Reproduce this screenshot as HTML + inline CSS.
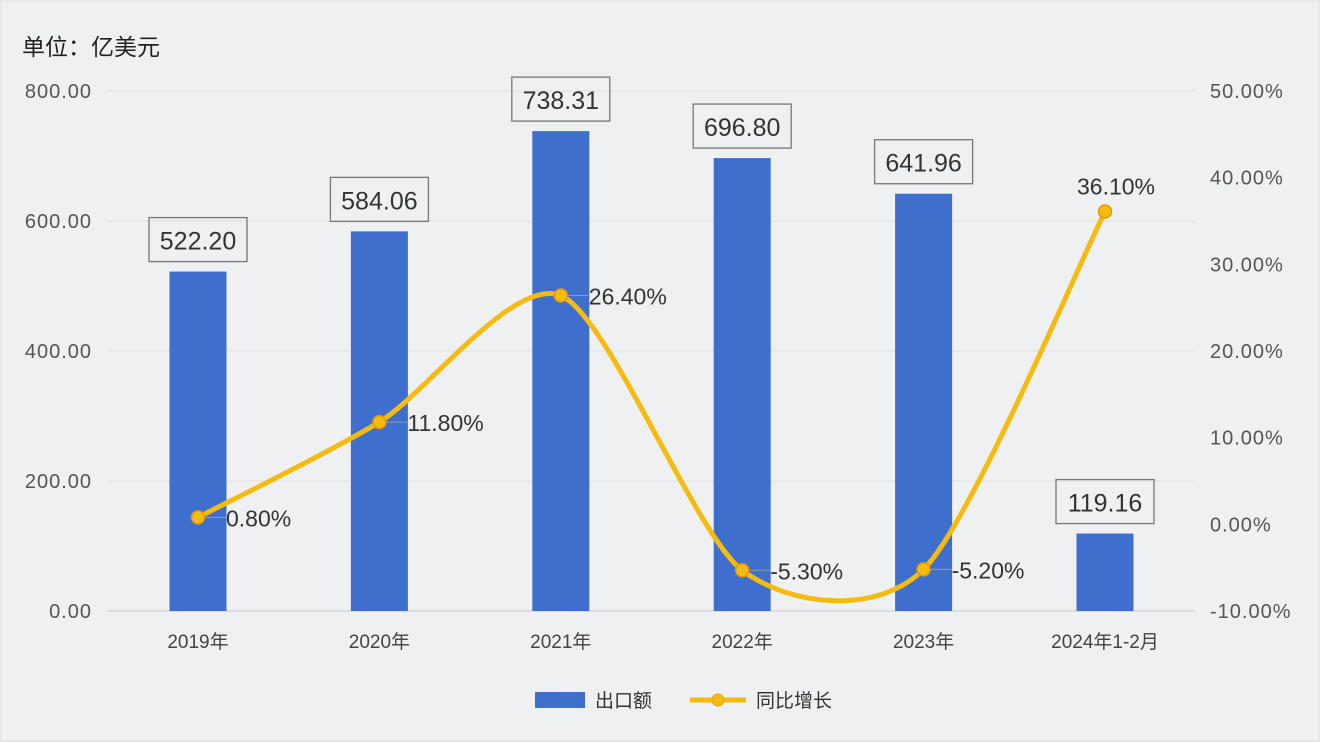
<!DOCTYPE html>
<html><head><meta charset="utf-8"><style>
body{margin:0;background:#eff0f2;}
svg{display:block;font-family:"Liberation Sans","Noto Sans CJK SC",sans-serif;}
</style></head><body>
<svg id="c" width="1320" height="742">
<rect x="1" y="1" width="1318" height="740" fill="#eff0f2" stroke="#dcdde0"/>
<text x="22" y="55" font-size="23" fill="#222">单位：亿美元</text>
<g id="grid"></g><g id="bars"></g><g id="line"></g><g id="labels"></g>
<g>
<rect x="535" y="692" width="50" height="16" fill="#3f6fcc"/>
<text x="595" y="707" font-size="19" fill="#333">出口额</text>
<line x1="690" y1="700" x2="746" y2="700" stroke="#f5bb10" stroke-width="5"/>
<circle cx="718" cy="700" r="6" fill="#f5bb10" stroke="#e8a000"/>
<text x="756" y="707" font-size="19" fill="#333">同比增长</text>
</g>
</svg>
<script>
const categories=["2019年","2020年","2021年","2022年","2023年","2024年1-2月"];
const exportValues=[522.20,584.06,738.31,696.80,641.96,119.16];
const growth=[0.80,11.80,26.40,-5.30,-5.20,36.10];
const leftTicks=[0,200,400,600,800];
const rightTicks=[-10,0,10,20,30,40,50];
const NS="http://www.w3.org/2000/svg";
const plotTop=91,plotBot=611,x0=107,x1=1195;
const yL=v=>plotBot-(v/800)*(plotBot-plotTop);
const yR=v=>plotBot-((v+10)/60)*(plotBot-plotTop);
const xC=i=>198+i*181.4;
function mk(tag,attrs,parent,txt){const e=document.createElementNS(NS,tag);for(const k in attrs)e.setAttribute(k,attrs[k]);if(txt!=null)e.textContent=txt;document.getElementById(parent).appendChild(e);return e;}
leftTicks.forEach(t=>{
 const l=mk('line',{x1:x0,x2:x1,y1:yL(t),y2:yL(t),stroke:t===0?'#c8c9cc':'#dfe0e3','stroke-width':1},'grid');
 
 
 const tx=mk('text',{x:92,y:yL(t)+7,'text-anchor':'end','font-size':20,fill:'#555','letter-spacing':1},'grid',t.toFixed(2));
 
 
});
rightTicks.forEach(t=>{
 const tx=mk('text',{x:1210,y:yR(t)+7,'font-size':20,fill:'#555','letter-spacing':1},'grid',t.toFixed(2)+'%');
 
 
});
categories.forEach((c,i)=>{
 const tx=mk('text',{x:xC(i),y:648,'text-anchor':'middle','font-size':19,fill:'#444'},'grid',c);
 
 
});
exportValues.forEach((v,i)=>{
 const b=mk('rect',{x:xC(i)-28.5,y:yL(v),width:57,height:plotBot-yL(v),fill:'#3f6fcc'},'bars');
 
 
 const s=v.toFixed(2),w=s.length*13+20;
 const r=mk('rect',{x:xC(i)-w/2,y:yL(v)-54,width:w,height:44,fill:'none',stroke:'#777','stroke-width':1.3},'labels');
 
 
 const t=mk('text',{x:xC(i),y:yL(v)-22,'text-anchor':'middle','font-size':25,fill:'#333'},'labels',s);
 
 
});
const pts=growth.map((g,i)=>[xC(i),yR(g)]);
let d='M'+pts[0][0]+','+pts[0][1];
for(let i=0;i<pts.length-1;i++){
 const p0=pts[Math.max(0,i-1)],p1=pts[i],p2=pts[i+1],p3=pts[Math.min(pts.length-1,i+2)];
 const k=0.13;
 d+=' C'+(p1[0]+(p2[0]-p0[0])*k)+','+(p1[1]+(p2[1]-p0[1])*k)+' '+(p2[0]-(p3[0]-p1[0])*k)+','+(p2[1]-(p3[1]-p1[1])*k)+' '+p2[0]+','+p2[1];
}
const path=mk('path',{d:d,fill:'none',stroke:'#f5bb10','stroke-width':5},'line');


pts.forEach((p,i)=>{
 const c=mk('circle',{cx:p[0],cy:p[1],r:6.5,fill:'#f5bb10',stroke:'#e39a00','stroke-width':1.5},'line');
 
 
 const last=i===pts.length-1;
 if(!last){const l=mk('line',{x1:p[0]+6,y1:p[1],x2:p[0]+28,y2:p[1],stroke:'#999','stroke-width':1},'labels');
  
  }
 const t=mk('text',{x:last?p[0]-28:p[0]+28,y:last?p[1]-17:p[1]+9,'font-size':23,fill:'#333'},'labels',growth[i].toFixed(2)+'%');
 
 
});
</script>
</body></html>
